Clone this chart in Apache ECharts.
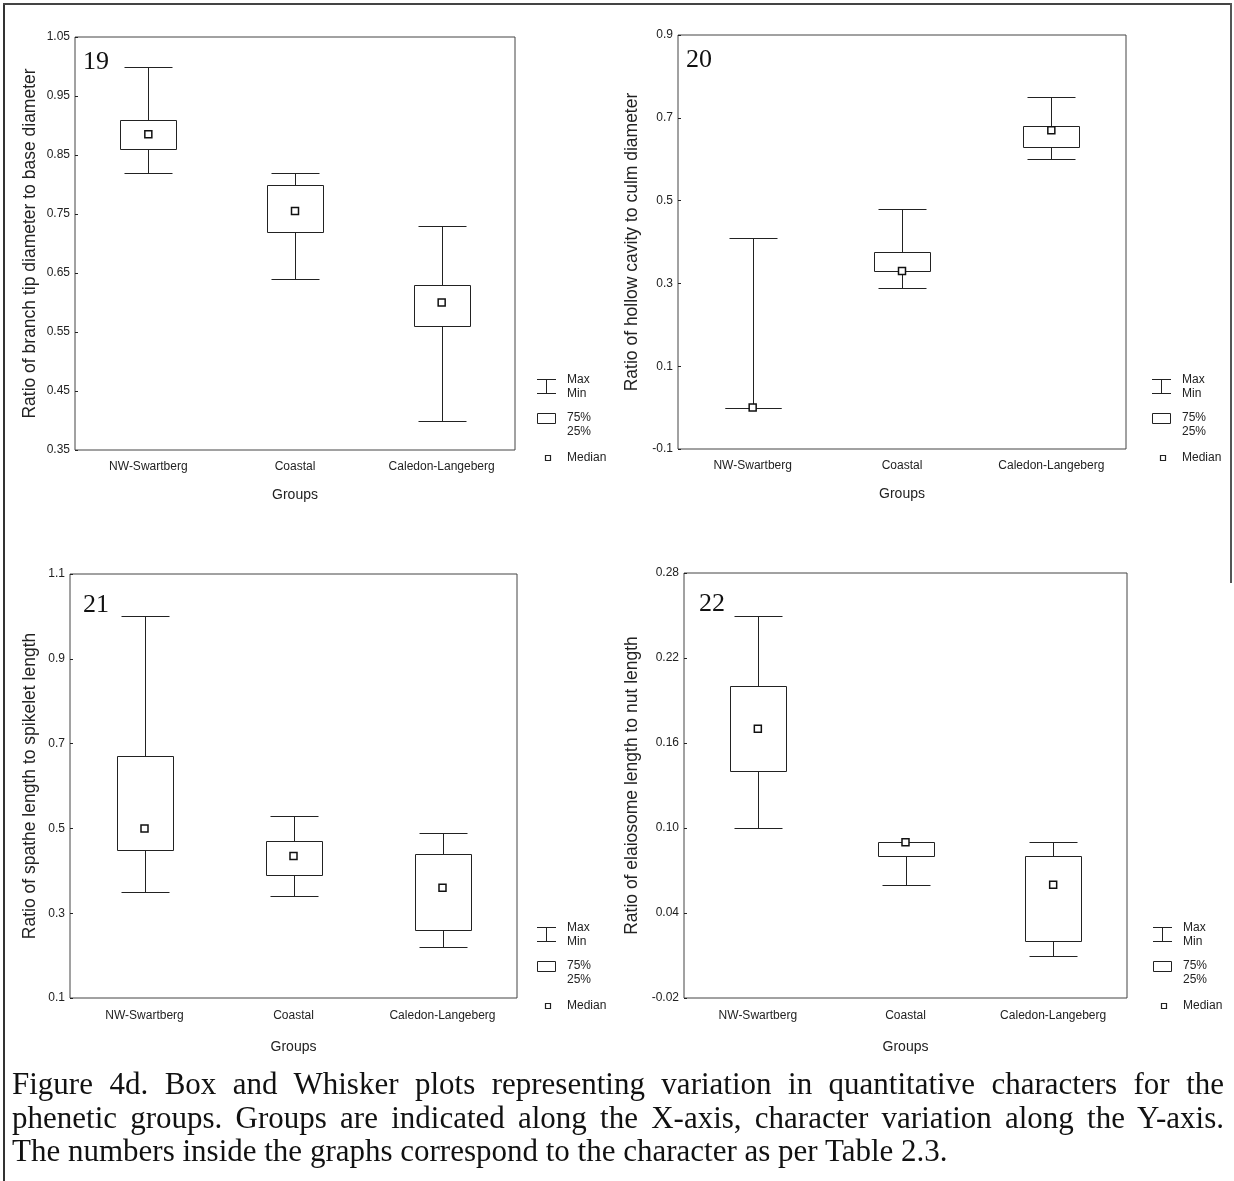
<!DOCTYPE html>
<html>
<head>
<meta charset="utf-8">
<script src="https://cdn.jsdelivr.net/npm/echarts@6/dist/echarts.min.js"></script>
<style>
  html, body { margin: 0; padding: 0; background: #fff; }
  #page { position: relative; width: 1234px; height: 1181px; overflow: hidden; }
  #chart { position: absolute; left: 0; top: 0; width: 1234px; height: 1181px; }
  .frame-left { position: absolute; left: 3px; top: 3px; width: 2px; height: 1178px; background: #333; }
  .frame-top { position: absolute; left: 3px; top: 3px; width: 1229px; height: 2px; background: #444; }
  .frame-right { position: absolute; left: 1230px; top: 3px; width: 2px; height: 580px; background: #555; }
  .cap {
    position: absolute; left: 12px; width: 1212px; height: 34px; line-height: 34px;
    font-family: "Liberation Serif", "Times New Roman", serif; font-size: 31px; color: #111;
    white-space: nowrap;
  }
  .just { text-align: justify; text-align-last: justify; }
</style>
</head>
<body>
<div id="page">
  <div id="chart"></div>
  <div class="frame-left"></div>
  <div class="frame-top"></div>
  <div class="frame-right"></div>
  <div class="cap just" style="top:1067px">Figure 4d. Box and Whisker plots representing variation in quantitative characters for the</div>
  <div class="cap just" style="top:1101px">phenetic groups. Groups are indicated along the X-axis, character variation along the Y-axis.</div>
  <div class="cap" style="top:1134px">The numbers inside the graphs correspond to the character as per Table 2.3.</div>
</div>
<script>
const groups = ['NW-Swartberg', 'Coastal', 'Caledon-Langeberg']

// 19: branch tip / base diameter
const min19 = [0.82, 0.64, 0.40]
const q1_19 = [0.86, 0.72, 0.56]
const med19 = [0.885, 0.755, 0.60]
const q3_19 = [0.91, 0.80, 0.63]
const max19 = [1.00, 0.82, 0.73]
const ticks19 = [0.35, 0.45, 0.55, 0.65, 0.75, 0.85, 0.95, 1.05]

// 20: hollow cavity / culm diameter
const min20 = [0.0, 0.29, 0.60]
const q1_20 = [0.0, 0.33, 0.63]
const med20 = [0.0, 0.33, 0.67]
const q3_20 = [0.0, 0.375, 0.68]
const max20 = [0.41, 0.48, 0.75]
const ticks20 = [-0.1, 0.1, 0.3, 0.5, 0.7, 0.9]

// 21: spathe length / spikelet length
const min21 = [0.35, 0.34, 0.22]
const q1_21 = [0.45, 0.39, 0.26]
const med21 = [0.50, 0.435, 0.36]
const q3_21 = [0.67, 0.47, 0.44]
const max21 = [1.00, 0.53, 0.49]
const ticks21 = [0.1, 0.3, 0.5, 0.7, 0.9, 1.1]

// 22: elaiosome length / nut length
const min22 = [0.10, 0.06, 0.01]
const q1_22 = [0.14, 0.08, 0.02]
const med22 = [0.17, 0.09, 0.06]
const q3_22 = [0.20, 0.09, 0.08]
const max22 = [0.25, 0.09, 0.09]
const ticks22 = [-0.02, 0.04, 0.10, 0.16, 0.22, 0.28]

const narrow = '"Liberation Sans Narrow", "Arial Narrow", "Liberation Sans", Arial, sans-serif'
const sans = '"Liberation Sans", Arial, sans-serif'
const serif = '"Liberation Serif", "Times New Roman", serif'
const ink = '#222'

const panels = [
  { num: '19', title: 'Ratio of branch tip diameter to base diameter', ticks: ticks19, dec: 2,
    nameGap: 36, xGap: 38, labelGap: 11, numAt: [8, 12],
    min: min19, q1: q1_19, med: med19, q3: q3_19, max: max19,
    grid: { left: 75, top: 37, width: 440, height: 413 }, legend: [537, 379] },
  { num: '20', title: 'Ratio of hollow cavity to culm diameter', ticks: ticks20, dec: 1,
    nameGap: 37, xGap: 38, labelGap: 11, numAt: [8, 12],
    min: min20, q1: q1_20, med: med20, q3: q3_20, max: max20,
    grid: { left: 678, top: 35, width: 448, height: 414 }, legend: [1152, 379] },
  { num: '21', title: 'Ratio of spathe length to spikelet length', ticks: ticks21, dec: 1,
    nameGap: 31, xGap: 42, labelGap: 12, numAt: [13, 18],
    min: min21, q1: q1_21, med: med21, q3: q3_21, max: max21,
    grid: { left: 70, top: 574, width: 447, height: 424 }, legend: [537, 927] },
  { num: '22', title: 'Ratio of elaiosome length to nut length', ticks: ticks22, dec: 2,
    nameGap: 43, xGap: 42, labelGap: 12, numAt: [15, 18],
    min: min22, q1: q1_22, med: med22, q3: q3_22, max: max22,
    grid: { left: 684, top: 573, width: 443, height: 425 }, legend: [1153, 927] },
]

function renderBox(params, api) {
  const i = api.value(0)
  const lo = api.coord([i, api.value(1)])
  const b1 = api.coord([i, api.value(2)])
  const b3 = api.coord([i, api.value(3)])
  const hi = api.coord([i, api.value(4)])
  const cx = Math.round(lo[0]) + 0.5
  const r = v => Math.round(v) + 0.5
  const bw = 28, cw = 24
  const style = { stroke: ink, lineWidth: 1, fill: null }
  return {
    type: 'group',
    children: [
      { type: 'line', shape: { x1: cx, y1: r(lo[1]), x2: cx, y2: r(b1[1]) }, style },
      { type: 'line', shape: { x1: cx, y1: r(b3[1]), x2: cx, y2: r(hi[1]) }, style },
      { type: 'line', shape: { x1: cx - cw, y1: r(lo[1]), x2: cx + cw, y2: r(lo[1]) }, style },
      { type: 'line', shape: { x1: cx - cw, y1: r(hi[1]), x2: cx + cw, y2: r(hi[1]) }, style },
      { type: 'rect', shape: { x: cx - bw, y: r(b3[1]), width: bw * 2, height: r(b1[1]) - r(b3[1]) },
        style: { stroke: ink, lineWidth: 1, fill: '#fff' } },
    ],
  }
}

function legendKey(x, y) {
  const s = { stroke: ink, lineWidth: 1 }
  const t = (text, tx, ty) => ({ type: 'text', x: tx, y: ty,
    style: { text, font: '12px ' + narrow, fill: ink, textVerticalAlign: 'middle' } })
  return [
    { type: 'line', shape: { x1: x, y1: y + 0.5, x2: x + 19, y2: y + 0.5 }, style: s },
    { type: 'line', shape: { x1: x + 9.5, y1: y, x2: x + 9.5, y2: y + 14 }, style: s },
    { type: 'line', shape: { x1: x, y1: y + 14.5, x2: x + 19, y2: y + 14.5 }, style: s },
    t('Max', x + 30, y + 1),
    t('Min', x + 30, y + 15),
    { type: 'rect', shape: { x: x + 0.5, y: y + 34.5, width: 18, height: 10 }, style: { stroke: ink, lineWidth: 1, fill: '#fff' } },
    t('75%', x + 30, y + 39),
    t('25%', x + 30, y + 53),
    { type: 'rect', shape: { x: x + 8.5, y: y + 76.5, width: 5, height: 5 }, style: { stroke: ink, lineWidth: 1.2, fill: '#fff' } },
    t('Median', x + 30, y + 79),
  ]
}

const grids = [], xAxes = [], yAxes = [], series = [], graphics = []
panels.forEach((p, k) => {
  grids.push({ ...p.grid, show: true, borderColor: '#444', borderWidth: 1, backgroundColor: 'transparent' })
  xAxes.push({
    type: 'category', gridIndex: k, data: groups, boundaryGap: true,
    name: 'Groups', nameLocation: 'middle', nameGap: p.xGap,
    nameTextStyle: { fontFamily: narrow, fontSize: 14, color: ink },
    axisLine: { show: false }, axisTick: { show: false },
    axisLabel: { fontFamily: narrow, fontSize: 12, color: ink, margin: p.labelGap },
  })
  yAxes.push({
    type: 'value', gridIndex: k, min: p.ticks[0], max: p.ticks[p.ticks.length - 1],
    name: p.title, nameLocation: 'middle', nameGap: p.nameGap, nameRotate: 90,
    nameTextStyle: { fontFamily: sans, fontSize: 17.5, color: ink },
    axisLine: { show: false }, splitLine: { show: false },
    axisTick: { show: true, inside: true, length: 3, customValues: p.ticks, lineStyle: { color: ink } },
    axisLabel: { fontFamily: narrow, fontSize: 12, color: ink, margin: 5, customValues: p.ticks,
      formatter: v => v.toFixed(p.dec) },
  })
  series.push({
    type: 'custom', xAxisIndex: k, yAxisIndex: k, renderItem: renderBox,
    encode: { x: 0, y: [1, 2, 3, 4] },
    data: groups.map((g, i) => [i, p.min[i], p.q1[i], p.q3[i], p.max[i]]),
    z: 2,
  })
  series.push({
    type: 'scatter', xAxisIndex: k, yAxisIndex: k, symbol: 'rect', symbolSize: 7,
    itemStyle: { color: '#fff', borderColor: '#111', borderWidth: 1.5, opacity: 1 },
    data: groups.map((g, i) => [i, p.med[i]]),
    z: 3,
  })
  graphics.push({ type: 'text', x: p.grid.left + p.numAt[0], y: p.grid.top + p.numAt[1],
    style: { text: p.num, font: '26px ' + serif, fill: '#111' } })
  graphics.push(...legendKey(p.legend[0], p.legend[1]))
})

const chart = echarts.init(document.getElementById('chart'), null, { renderer: 'canvas' })
chart.setOption({
  animation: false,
  backgroundColor: '#fff',
  grid: grids,
  xAxis: xAxes,
  yAxis: yAxes,
  series,
  graphic: graphics,
})
</script>
</body>
</html>
